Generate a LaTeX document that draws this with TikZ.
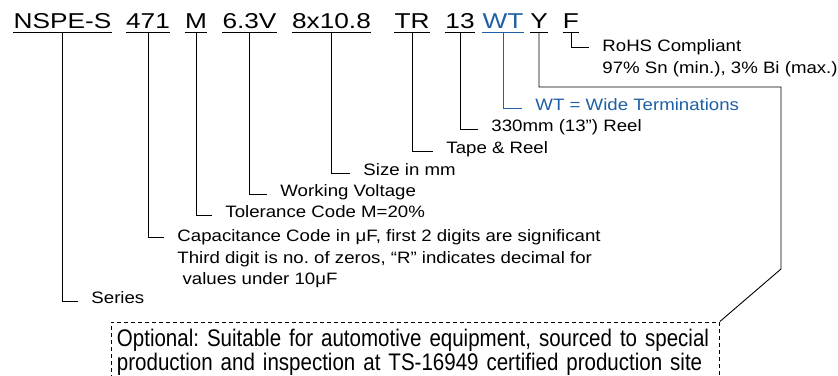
\documentclass[tikz,border=0pt]{standalone}
\usepackage{fontspec}
\setmainfont[FakeStretch=1.13]{Liberation Sans}
\newfontfamily\codefont[FakeStretch=1.22]{Liberation Sans}
\newfontfamily\boxfont[FakeStretch=0.855]{Liberation Sans}
\definecolor{wtblue}{RGB}{30,95,165}

\begin{document}
\frenchspacing
\begin{tikzpicture}
[-,line width=0.9pt,x=1pt,y=-1pt,%
  every node/.style={inner sep=0pt},%
  code/.style={anchor=base,inner ysep=4pt,text depth=0pt,%
    font=\codefont\fontsize{21.5}{21.5}\selectfont},%
  lbl/.style={anchor=mid west,inner xsep=13pt,align=left,%
    font=\fontsize{16.5}{21.5}\selectfont},%
  mlbl/.style={lbl,anchor=north west},%
  optbox/.style={draw,dash pattern=on 4pt off 3pt,anchor=north west,%
    inner xsep=5.5pt,inner ysep=7.5pt,text width=597pt,align=left,%
    font=\boxfont\fontsize{24}{20}\selectfont}]
\clip (0,0) rectangle (838,375);
%% part number
\node[code] (ser) at (62.5,28) {NSPE-S};
\node[code] (cap) at (148,28) {471};
\node[code] (tol) at (196,28) {M};
\node[code] (volt) at (249.5,28) {6.3V};
\node[code] (size) at (331.5,28) {8x10.8};
\node[code] (tr) at (412,28) {TR};
\node[code] (reel) at (460,28) {13};
\node[code,text=wtblue] (wt) at (503,28) {WT};
\node[code] (opt) at (539,28) {Y};
\node[code] (rohs) at (571,28) {F};
\foreach \n in {ser,cap,tol,volt,size,tr,reel,opt,rohs}
  \draw (\n.south west) -- (\n.south east);
\draw[wtblue] (wt.south west) -- (wt.south east);
%% explanations
\node[lbl] (lser) at (78,301) {Series};
\node[mlbl] (lcap) at (164,229.5) {Capacitance Code in μF, first 2 digits are significant\\
  Third digit is no. of zeros, “R” indicates decimal for\\ \ values under 10μF};
\node[lbl] (ltol) at (212,215) {Tolerance Code M=20\%};
\node[lbl] (lvolt) at (267,194) {Working Voltage};
\node[lbl] (lsize) at (350,173) {Size in mm};
\node[lbl] (ltr) at (433,151) {Tape \& Reel};
\node[lbl] (lreel) at (478,129) {330mm (13”) Reel};
\node[lbl,text=wtblue] (lwt) at (522,108) {WT = Wide Terminations};
\node[mlbl] (lrohs) at (589,39.5) {RoHS Compliant\\97\% Sn (min.), 3\% Bi (max.)};
\node[optbox] (box) at (111,321.5) {Optional: Suitable for automotive equipment, sourced to special\\
  production and inspection at TS-16949 certified production site\\ };
\foreach \a/\b in {ser/lser,tol/ltol,volt/lvolt,size/lsize,tr/ltr,reel/lreel}
  \draw (\a.south) |- (\b.mid west);
\draw (cap.south) |- ([yshift=-7.5pt]lcap.north west);
\draw (rohs.south) |- ([yshift=-7.5pt]lrohs.north west);
\draw[wtblue] (wt.south) |- (lwt.mid west);
\draw (opt.south) |- (781,87) -- (781,269) -- (box.north east);
\end{tikzpicture}
\end{document}
